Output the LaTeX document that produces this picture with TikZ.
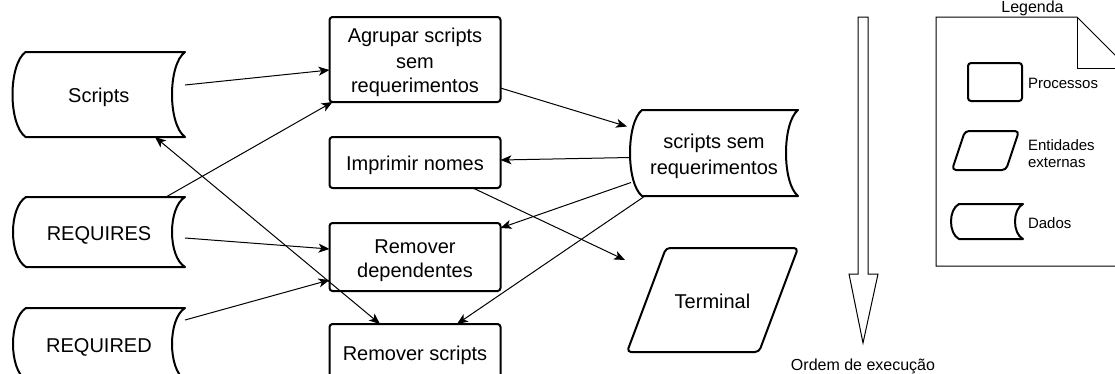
\documentclass[tikz,border=0pt]{standalone}
\usepackage{fontspec}
\setmainfont{Liberation Sans}
\usetikzlibrary{calc,arrows.meta}

\newcommand\mainfs{\fontsize{20}{24}\selectfont}
\newcommand\legfs{\fontsize{15}{17}\selectfont}
\newcommand\ordfs{\fontsize{16}{19}\selectfont}
% fixed line struts so that every text line sits at the same place
\newcommand\ms{\rule[-3.5pt]{0pt}{24pt}}
\newcommand\lgs{\rule[-4pt]{0pt}{17pt}}

% outline of a "stored data" shape drawn over a plain node:
% #1 node name, #2 depth of the curved sides
\newcommand\dsoutline[2]{%
  \draw[boxline] ($(#1.north west)+(#2,0)$) -- (#1.north east)
    .. controls ($(#1.north east)!0.15!(#1.south east)+(-1.333*#2,0)$)
           and ($(#1.north east)!0.85!(#1.south east)+(-1.333*#2,0)$) .. (#1.south east)
    -- ($(#1.south west)+(#2,0)$)
    .. controls ($(#1.north west)!0.85!(#1.south west)+(-0.333*#2,0)$)
           and ($(#1.north west)!0.15!(#1.south west)+(-0.333*#2,0)$) .. ($(#1.north west)+(#2,0)$)
    -- cycle;}

% outline of a parallelogram over a plain node: #1 node name, #2 slant
\newcommand\paraoutline[2]{%
  \draw[boxline, rounded corners=4pt] ($(#1.north west)+(#2,0)$) -- (#1.north east)
    -- ($(#1.south east)+(-#2,0)$) -- (#1.south west) -- cycle;}

\tikzset{
  boxline/.style={draw=black, line width=2pt, line join=round},
  thinline/.style={draw=black, line width=1pt, line join=miter},
  plain/.style={outer sep=0pt, inner sep=0pt, align=center, font=\mainfs},
  procbox/.style={plain, boxline, rounded corners=3pt, minimum width=171pt},
  dstore/.style={plain, minimum width=172pt},
  legtext/.style={anchor=west, outer sep=0pt, inner sep=0pt, align=left, font=\legfs},
  >={Stealth[length=11pt,width=9pt,inset=3pt]},
  conn/.style={->, line width=1pt},
  conn2/.style={<->, line width=1pt}
}

\begin{document}
\begin{tikzpicture}[x=1pt, y=-1pt]
  \path[fill=white, use as bounding box] (0,0) rectangle (1115,373);
  \clip (0,0) rectangle (1115,373);

  % data stores
  \node[dstore, minimum width=172.5pt, minimum height=85pt] (scripts) at (98.75,94.5) {\ms Scripts};
  \node[dstore, minimum height=70pt] (requires) at (99,232) {\ms REQUIRES};
  \node[dstore, minimum height=72pt] (required) at (99,344) {\ms REQUIRED};
  \node[dstore, minimum width=168pt, minimum height=86pt] (ssr) at (714,153) {\ms scripts sem\\\ms requerimentos};
  \dsoutline{scripts}{13}
  \dsoutline{requires}{13}
  \dsoutline{required}{13}
  \dsoutline{ssr}{12}

  % processes
  \node[procbox, minimum height=85pt] (agrupar) at (415,59.5) {\ms Agrupar scripts\\\ms sem\\\ms requerimentos};
  \node[procbox, minimum height=51pt] (imprimir) at (415,162.5) {\ms Imprimir nomes};
  \node[procbox, minimum height=68pt] (remdep) at (415,257) {\ms Remover\\\ms dependentes};
  \node[procbox, minimum height=56pt] (remscr) at (415,352) {\ms Remover scripts};

  % external entity
  \node[plain, minimum width=171pt, minimum height=104pt] (terminal) at (712.5,300) {\ms Terminal};
  \paraoutline{terminal}{39}

  % connectors
  \draw[conn] ($(scripts.east)+(0,-9.5)$) -- ($(agrupar.west)+(0,10.5)$);
  \draw[conn] ($(requires.north west)+(153,0)$) -- ($(agrupar.south west)+(3,0)$);
  \draw[conn] ($(requires.east)+(0,6)$) -- ($(remdep.west)+(0,-8)$);
  \draw[conn] ($(required.east)+(0,-24)$) -- ($(remdep.west)+(0,23)$);
  \draw[conn2] ($(scripts.south west)+(142.5,0)$) -- ($(remscr.north west)+(50.5,0)$);
  \draw[conn] ($(agrupar.east)+(0,28.5)$) -- ($(ssr.west)+(-3,-26.5)$);
  \draw[conn] ($(ssr.west)+(0,4.5)$) -- ($(imprimir.east)+(0,-2.5)$);
  \draw[conn] ($(ssr.west)+(1,29.5)$) -- ($(remdep.north east)+(0,5)$);
  \draw[conn] ($(ssr.south west)+(15,0)$) -- ($(remscr.north west)+(127.5,0)$);
  \draw[conn] ($(imprimir.south west)+(143.5,0)$) -- ($(terminal.west)+(-2,-40)$);

  % execution order arrow
  \draw[thinline] (858,17) -- (868,17) -- (868,274) -- (878,274) -- (863,343)
    -- (849,274) -- (858,274) -- cycle;
  \node[anchor=base, inner sep=0pt, font=\ordfs] (ordem) at (863,370) {Ordem de execução};

  % legend sheet
  \draw[thinline] (936,17) -- (1077,17) -- (1128,68) -- (1128,266) -- (936,266) -- cycle;
  \draw[thinline] (1077,17) -- (1077,68) -- (1128,68);
  \node[anchor=base, inner sep=0pt, font=\ordfs] (legtitle) at (1032.5,12) {Legenda};

  \node[plain, boxline, rounded corners=3pt, minimum width=54pt, minimum height=38pt] (legproc) at (995,82) {};
  \node[legtext] (lproc) at (1028,83.8) {\lgs Processos};

  \node[plain, minimum width=67pt, minimum height=39pt] (legext) at (985.5,150.5) {};
  \paraoutline{legext}{13}
  \node[legtext] (lext) at (1028,154) {\lgs Entidades\\\lgs externas};

  \node[plain, minimum width=72pt, minimum height=35pt] (legdata) at (987,221.5) {};
  \dsoutline{legdata}{8}
  \node[legtext] (ldata) at (1028,223.5) {\lgs Dados};
\end{tikzpicture}
\end{document}
